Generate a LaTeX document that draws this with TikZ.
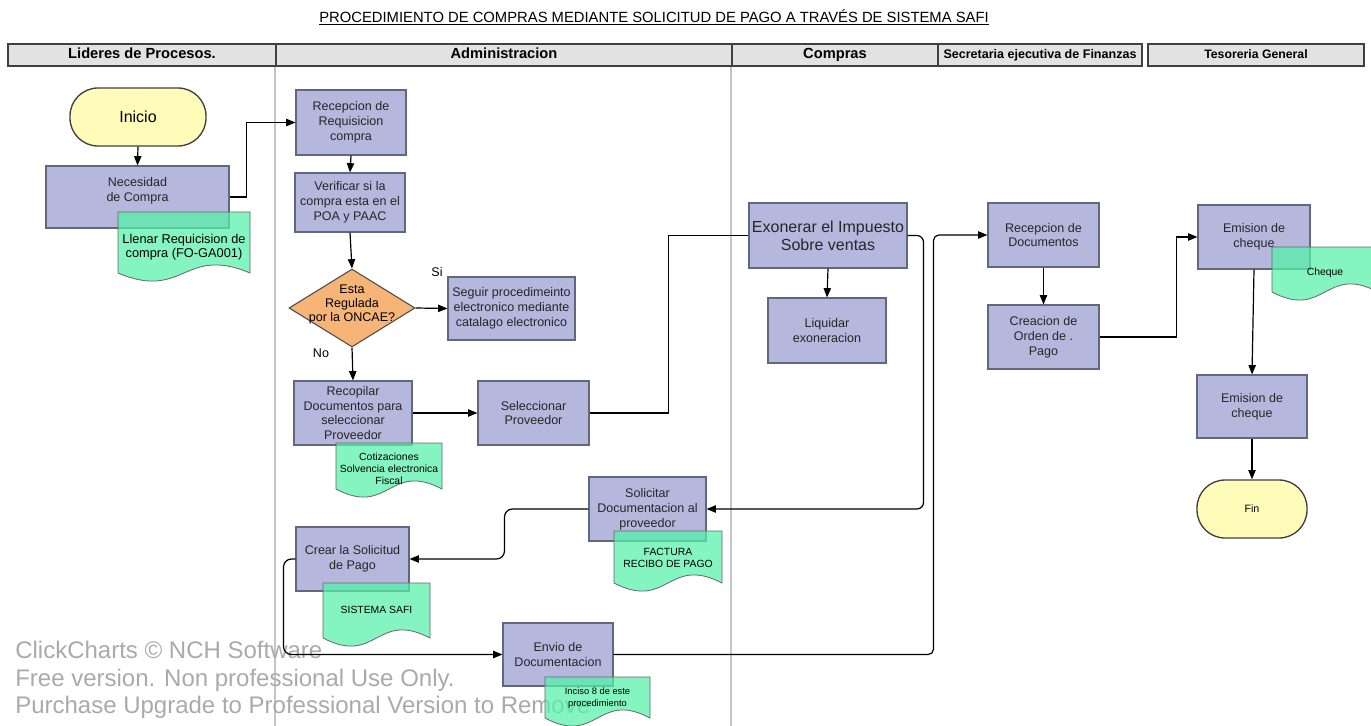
\documentclass[tikz,border=0pt]{standalone}
\usepackage{fontspec}
\setmainfont{Liberation Sans}
\usetikzlibrary{shapes.geometric,arrows.meta}

\definecolor{procfill}{RGB}{181,183,221}
\definecolor{procline}{RGB}{96,104,128}
\definecolor{docfill}{RGB}{85,242,168}
\definecolor{decfill}{RGB}{246,180,118}
\definecolor{termfill}{RGB}{255,252,186}
\definecolor{headfill}{RGB}{226,226,226}
\definecolor{laneline}{RGB}{196,196,196}
\definecolor{markgray}{RGB}{170,170,170}

% process box: [extra options]{name}{x0}{x1}{y0}{y1}{text}
\newcommand\proc[7][]{%
  \node[proc,#1,minimum width={(#4-#3)*0.75pt},minimum height={(#6-#5)*0.75pt}]
    (#2) at ({(#3+#4)/2},{(#5+#6)/2}) {#7};}
% document symbol with wavy lower edge: {name}{x0}{x1}{top}{base}{text y}{style}{text}
\newcommand\docsym[8]{%
  \draw[docshape] (#2,#4) -- (#3,#4) -- (#3,#5)
    .. controls ({(#2+#3)/2},{#5-28}) and ({(#2+#3)/2},{#5+28}) .. (#2,#5) -- cycle;
  \node[#7] (#1) at ({(#2+#3)/2},#6) {#8};}

\begin{document}
\begin{tikzpicture}[x=0.75pt,y=-0.75pt,
  proc/.style={draw=procline,fill=procfill,line width=0.8pt,align=center,inner sep=1pt,
    text=black!85,font=\fontsize{9.4}{11.2}\selectfont},
  bigtext/.style={font=\fontsize{12}{13.5}\selectfont},
  term/.style={draw=black!75,fill=termfill,line width=1pt,inner sep=1pt,rounded corners=21pt},
  dec/.style={diamond,draw=black!70,fill=decfill,line width=0.8pt,inner sep=0pt,
    font=\fontsize{9.4}{10.6}\selectfont},
  docshape/.style={draw=black!60,line width=0.6pt,fill=docfill,fill opacity=0.72},
  docA/.style={align=center,inner sep=0pt,font=\fontsize{9.6}{10.6}\selectfont},
  docB/.style={align=center,inner sep=0pt,font=\fontsize{7.8}{9.2}\selectfont},
  docC/.style={align=center,inner sep=0pt,font=\fontsize{7}{8.6}\selectfont},
  head/.style={draw=black!75,fill=headfill,line width=1.1pt,minimum height=16.5pt,inner sep=0pt,
    text height=7.6pt,text depth=2.2pt},
  lane/.style={draw=laneline,line width=1.4pt},
  conn/.style={line width=0.9pt},
  arr/.style={conn,-{Triangle[length=7pt,width=5.5pt]}},
  tag/.style={inner sep=0pt,font=\fontsize{9.4}{11.2}\selectfont},
  watermark/.style={text=markgray,align=left,inner sep=0pt,font=\fontsize{18}{20.6}\selectfont}]

\useasboundingbox (0,0) rectangle (1371,725);
\clip (0,0) rectangle (1371,725);
\fill[white] (0,0) rectangle (1371,725);

% title
\node[font=\fontsize{11.1}{13}\selectfont] (title) at (654,17) {\underline{PROCEDIMIENTO DE COMPRAS MEDIANTE SOLICITUD DE PAGO A TRAVÉS DE SISTEMA SAFI}};

% lane headers
\node[head,minimum width={(276-8)*0.75pt},font=\bfseries\fontsize{11}{13}\selectfont] (hLid) at ({(8+276)/2},55) {Lideres de Procesos.};
\node[head,minimum width={(732-276)*0.75pt},font=\bfseries\fontsize{11}{13}\selectfont] (hAdm) at ({(276+732)/2},55) {Administracion};
\node[head,minimum width={(938-732)*0.75pt},font=\bfseries\fontsize{11}{13}\selectfont] (hComp) at ({(732+938)/2},55) {Compras};
\node[head,minimum width={(1142-938)*0.75pt},font=\bfseries\fontsize{9.4}{11}\selectfont] (hSec) at ({(938+1142)/2},55) {Secretaria ejecutiva de Finanzas};
\node[head,minimum width={(1364-1148)*0.75pt},font=\bfseries\fontsize{9.2}{11}\selectfont] (hTes) at ({(1148+1364)/2},55) {Tesoreria General};

% lane separators
\draw[lane] (hAdm.south west) -- ++(0,670);
\draw[lane] (hComp.south west) -- ++(0,670);

% software notice
\node[watermark,anchor=west] (wm) at (15,680) {ClickCharts © NCH Software\\Free version. Non professional Use Only.\\Purchase Upgrade to Professional Version to Remove};

% terminators
\node[term,minimum width={136*0.75pt},minimum height={58*0.75pt},font=\fontsize{12}{14}\selectfont] (ini) at (138,117) {Inicio};
\node[term,minimum width={110*0.75pt},minimum height={58*0.75pt},font=\fontsize{8}{10}\selectfont] (fin) at (1252,509) {Fin};

% process steps
\proc[text depth=12pt]{nec}{46}{229}{166}{228}{Necesidad\\de Compra}
\proc{rec}{296}{406}{90}{155}{Recepcion de\\Requisicion\\compra}
\proc{ver}{295}{405}{173}{232}{Verificar si la\\compra esta en el\\POA y PAAC}
\proc{seg}{448}{575}{277}{340}{Seguir procedimeinto\\electronico mediante\\catalago electronico}
\proc{recop}{294}{412}{381}{445}{Recopilar\\Documentos para\\seleccionar\\Proveedor}
\proc{sel}{478}{589}{381}{445}{Seleccionar\\Proveedor}
\proc[bigtext]{exo}{749}{907}{203}{268}{Exonerar el Impuesto\\Sobre ventas}
\proc{liq}{768}{886}{298}{363}{Liquidar\\exoneracion}
\proc{sol}{589}{706}{477}{541}{Solicitar\\Documentacion al\\proveedor}
\proc{crear}{296}{409}{527}{591}{Crear la Solicitud\\de Pago}
\proc{envio}{503}{613}{623}{686}{Envio de\\Documentacion}
\proc{recdoc}{988}{1099}{203}{267}{Recepcion de\\Documentos}
\proc{creac}{988}{1099}{305}{369}{Creacion de\\Orden de .\\Pago}
\proc{emA}{1198}{1310}{205}{269}{Emision de\\cheque}
\proc{emB}{1197}{1307}{375}{438}{Emision de\\cheque}

% decision
\node[dec,minimum width={126*0.75pt},minimum height={78*0.75pt}] (q) at (352,308)
  {\smash{\makebox[0pt]{\begin{tabular}{@{}c@{}}Esta\\Regulada\\por la ONCAE?\end{tabular}}}};
\node[tag] (si) at (437,272) {Si};
\node[tag] (no) at (321,353) {No};

% flow
\draw[arr] (ini.south) -- (nec.north);
\draw[arr] (nec.east) -- ++(17,0) |- (rec.west);
\draw[arr] (rec.south) -- (ver.north);
\draw[arr] (ver.south) -- (q.north);
\draw[arr] (q.east) -- (seg.west);
\draw[arr] (q.south) -- (recop.north);
\draw[arr] (recop.east) -- (sel.west);
\draw[conn] (sel.east) -- ++(79,0) |- (exo.west);
\draw[arr] (exo.south) -- (liq.north);
\draw[arr,rounded corners=5pt] (exo.east) -- ++(16,0) |- (sol.east);
\draw[arr,rounded corners=6pt] (sol.west) -- ++(-84,0) |- (crear.east);
\draw[arr,rounded corners=6pt] (crear.west) -- ++(-12,0) |- (envio.west);
\draw[arr,rounded corners=4pt] (envio.east) -- ++(320,0) |- (recdoc.west);
\draw[arr] (recdoc.south) -- (creac.north);
\draw[arr] (creac.east) -- ++(77,0) |- (emA.west);
\draw[arr] (emA.south) -- (emB.north);
\draw[arr] (emB.south) -- (fin.north);

% attached documents
\docsym{dLlenar}{118}{250}{212}{273}{247}{docA}{Llenar Requicision de\\compra (FO-GA001)}
\docsym{dCot}{336}{442}{443}{489}{469}{docB}{Cotizaciones\\Solvencia electronica\\Fiscal}
\docsym{dFac}{614}{722}{531}{583}{558}{docB}{FACTURA\\RECIBO DE PAGO}
\docsym{dSafi}{323}{430}{583}{638}{610}{docB}{SISTEMA SAFI}
\docsym{dInc}{545}{650}{677}{718}{698}{docC}{Inciso 8 de este\\procedimiento}
\docsym{dChq}{1272}{1378}{247}{292}{273}{docB}{Cheque}
\end{tikzpicture}
\end{document}
